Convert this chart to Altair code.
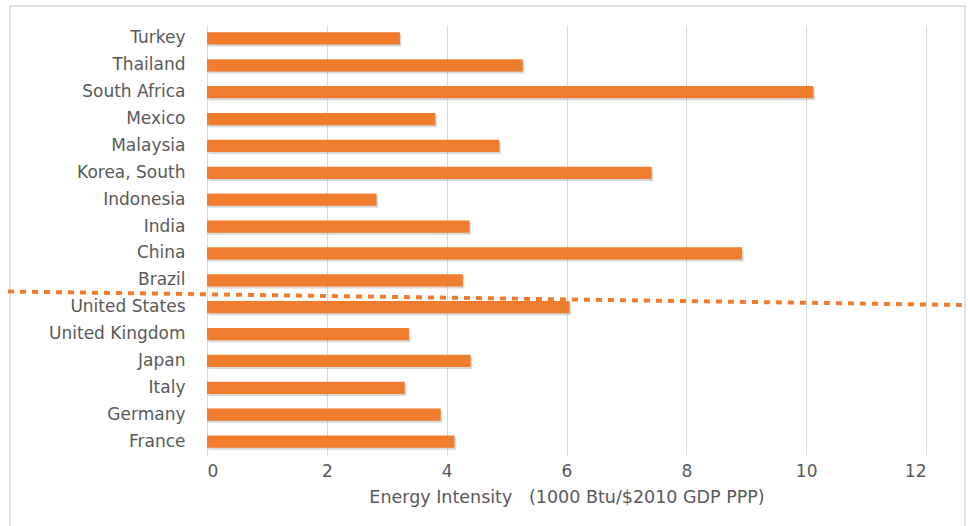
import altair as alt
import pandas as pd

countries = ["Turkey", "Thailand", "South Africa", "Mexico", "Malaysia",
             "Korea, South", "Indonesia", "India", "China", "Brazil",
             "United States", "United Kingdom", "Japan", "Italy", "Germany", "France"]
intensity = [3.22, 5.27, 10.12, 3.81, 4.88, 7.42, 2.83, 4.38, 8.93, 4.27,
             6.05, 3.37, 4.40, 3.30, 3.90, 4.13]
x_ticks = [0, 2, 4, 6, 8, 10, 12]
x_title = "Energy Intensity\u00a0\u00a0\u00a0(1000 Btu/$2010 GDP PPP)"

df = pd.DataFrame({"country": countries, "intensity": intensity})

ORANGE = "#F07D2E"
GRAY_TEXT = "#595959"
FONT = "DejaVu Sans"

y_enc = alt.Y(
    "country:N", sort=countries, title=None,
    scale=alt.Scale(paddingInner=0.54, paddingOuter=0.27),
    axis=alt.Axis(grid=False, domain=False, ticks=False, labelPadding=22,
                  labelFontSize=17, labelColor=GRAY_TEXT, labelFont=FONT),
)
x_enc = alt.X(
    "intensity:Q", title=x_title,
    scale=alt.Scale(domain=[0, 12], nice=False),
    axis=alt.Axis(values=x_ticks, grid=True, gridColor="#D9D9D9", gridWidth=1,
                  domain=False, ticks=False, labelPadding=8,
                  labelFontSize=17, labelColor=GRAY_TEXT, labelFont=FONT,
                  titleFontSize=17.5, titleColor=GRAY_TEXT, titleFont=FONT,
                  titleFontWeight="normal", titlePadding=9),
)

frame = alt.Chart(pd.DataFrame({"k": [0]})).mark_rect(
    fillOpacity=0, stroke="#D9D9D9", strokeWidth=1.5
).encode(x=alt.value(-197), x2=alt.value(758), y=alt.value(-19), y2=alt.value(540))

shadow = alt.Chart(df).mark_bar(
    color="#7f7f7f", opacity=0.3, xOffset=1.5, yOffset=2
).encode(x=x_enc, y=y_enc)

bars = alt.Chart(df).mark_bar(color=ORANGE).encode(x=x_enc, y=y_enc)

divider = alt.Chart(pd.DataFrame({"k": [0]})).mark_rule(
    color=ORANGE, strokeWidth=4, strokeDash=[6, 6]
).encode(x=alt.value(-199), x2=alt.value(756), y=alt.value(266.5), y2=alt.value(280))

chart = alt.layer(frame, shadow, bars, divider).properties(
    width=719, height=430,
    autosize=alt.AutoSizeParams(type="none"),
    padding={"left": 207, "top": 25, "right": 42, "bottom": 71},
    background="white",
).configure_view(strokeWidth=0)

chart.save("out.html", embed_options={"renderer": "svg", "actions": False})
